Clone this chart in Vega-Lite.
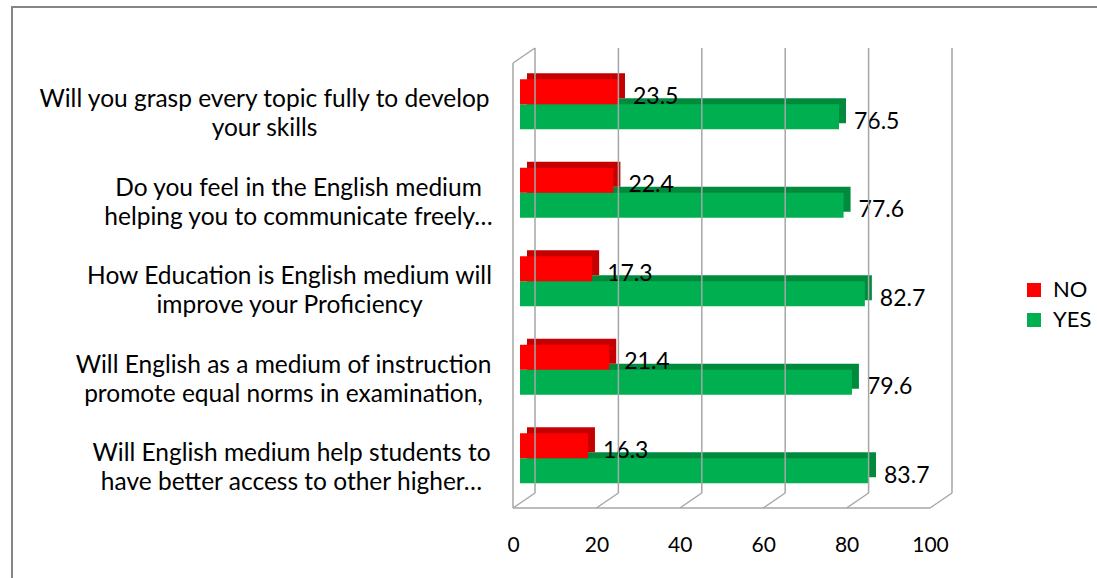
{
  "$schema": "https://vega.github.io/schema/vega-lite/v6.json",
  "width": 1094,
  "height": 575,
  "autosize": {"type": "none"},
  "padding": {"left": 12, "top": 7, "right": 0, "bottom": 0},
  "background": "white",
  "config": {
    "view": {"stroke": "#858585", "strokeWidth": 2},
    "font": "Lato",
    "axis": {"grid": false, "ticks": false, "tickSize": 0, "domain": false, "labelColor": "#000000"},
    "legend": {"padding": 0}
  },
  "datasets": {
    "bars": [
      {"question": "Will you grasp every topic fully to develop|your skills", "answer": "NO", "value": 23.5},
      {"question": "Will you grasp every topic fully to develop|your skills", "answer": "YES", "value": 76.5},
      {"question": "Do you feel in the English medium|helping you to communicate freely…", "answer": "NO", "value": 22.4},
      {"question": "Do you feel in the English medium|helping you to communicate freely…", "answer": "YES", "value": 77.6},
      {"question": "How Education is English medium will|improve your Proficiency", "answer": "NO", "value": 17.3},
      {"question": "How Education is English medium will|improve your Proficiency", "answer": "YES", "value": 82.7},
      {"question": "Will English as a medium of instruction|promote equal norms in examination,", "answer": "NO", "value": 21.4},
      {"question": "Will English as a medium of instruction|promote equal norms in examination,", "answer": "YES", "value": 79.6},
      {"question": "Will English medium help students to|have better access to other higher…", "answer": "NO", "value": 16.3},
      {"question": "Will English medium help students to|have better access to other higher…", "answer": "YES", "value": 83.7}
    ],
    "ticks": [{"tick": 0}, {"tick": 20}, {"tick": 40}, {"tick": 60}, {"tick": 80}, {"tick": 100}],
    "one": [{"k": 1}]
  },
  "layer": [
    {
      "data": {"name": "bars"},
      "encoding": {
        "x": {
          "field": "value", "type": "quantitative", "title": null,
          "scale": {"domain": [0, 100], "range": [508, 925], "nice": false, "zero": true},
          "axis": {"values": [0, 20, 40, 60, 80, 100], "orient": "bottom", "offset": -74, "labelPadding": 26, "labelOffset": -7, "labelFontSize": 21, "labelFlush": false}
        },
        "y": {
          "field": "question", "type": "nominal", "sort": null, "title": null,
          "scale": {"range": [53, 495.5], "paddingInner": 0.7175, "paddingOuter": 0.35875},
          "axis": {
            "labelExpr": "split(datum.label, '|')",
            "labelAlign": "center",
            "labelPadding": {
              "condition": [
                {"test": "indexof(datum.value, 'grasp') >= 0", "value": 249},
                {"test": "indexof(datum.value, 'feel') >= 0", "value": 215},
                {"test": "indexof(datum.value, 'How Education') >= 0", "value": 224},
                {"test": "indexof(datum.value, 'instruction') >= 0", "value": 230}
              ],
              "value": 222
            },
            "offset": -501, "labelFontSize": 24.5, "labelLineHeight": 29, "labelOffset": -4, "labelLimit": 700
          }
        }
      },
      "layer": [
        {"transform": [{"filter": "datum.answer === 'YES'"}], "mark": {"type": "bar", "color": "#008a3c", "xOffset": 7, "x2Offset": 7, "yOffset": 6.5}},
        {"transform": [{"filter": "datum.answer === 'NO'"}], "mark": {"type": "bar", "color": "#c40000", "xOffset": 7, "x2Offset": 7, "yOffset": -18.5}},
        {
          "transform": [{"filter": "datum.answer === 'YES'"}],
          "mark": {"type": "bar", "yOffset": 12.5},
          "encoding": {"color": {"field": "answer", "type": "nominal", "scale": {"domain": ["NO", "YES"], "range": ["#ff0000", "#00b050"]},
            "legend": {"title": null, "orient": "none", "legendX": 1011, "legendY": 272, "labelFontSize": 22, "symbolType": "square", "symbolSize": 196, "symbolStrokeWidth": 0, "rowPadding": 8, "labelOffset": 8, "labelColor": "#000000"}}}
        },
        {
          "transform": [{"filter": "datum.answer === 'NO'"}],
          "mark": {"type": "bar", "yOffset": -12.5},
          "encoding": {"color": {"field": "answer", "type": "nominal"}}
        },
        {
          "transform": [{"filter": "datum.answer === 'YES'"}],
          "mark": {"type": "text", "align": "left", "baseline": "middle", "dx": 15, "yOffset": 17.5, "fontSize": 23, "color": "#000000"},
          "encoding": {"text": {"field": "value", "type": "quantitative", "format": ".1f"}}
        },
        {
          "transform": [{"filter": "datum.answer === 'NO'"}],
          "mark": {"type": "text", "align": "left", "baseline": "middle", "dx": 15, "yOffset": -7.5, "fontSize": 23, "color": "#000000"},
          "encoding": {"text": {"field": "value", "type": "quantitative", "format": ".1f"}}
        }
      ]
    },
    {
      "layer": [
        {
          "data": {"name": "ticks"},
          "mark": {"type": "rule", "color": "#a6a6a6", "strokeWidth": 1.5, "xOffset": 15},
          "encoding": {
            "x": {"field": "tick", "type": "quantitative", "title": null},
            "y": {"datum": 0, "type": "quantitative", "title": null, "scale": {"domain": [0, 1], "range": [486, 41]}, "axis": null},
            "y2": {"datum": 1}
          }
        },
        {
          "data": {"name": "ticks"},
          "mark": {"type": "rule", "color": "#a6a6a6", "strokeWidth": 1.5, "xOffset": -7, "x2Offset": 15, "yOffset": 15, "y2Offset": 0},
          "encoding": {
            "x": {"field": "tick", "type": "quantitative", "title": null},
            "x2": {"field": "tick"},
            "y": {"datum": 0, "type": "quantitative", "title": null, "axis": null},
            "y2": {"datum": 0}
          }
        },
        {
          "data": {"name": "one"},
          "mark": {"type": "rule", "color": "#a6a6a6", "strokeWidth": 1.5, "xOffset": -7, "x2Offset": -7, "yOffset": 15},
          "encoding": {
            "x": {"datum": 0, "type": "quantitative", "title": null},
            "x2": {"datum": 100},
            "y": {"datum": 0, "type": "quantitative", "title": null, "axis": null}
          }
        },
        {
          "data": {"name": "one"},
          "mark": {"type": "rule", "color": "#a6a6a6", "strokeWidth": 1.5, "xOffset": -7, "yOffset": 15, "y2Offset": 15},
          "encoding": {
            "x": {"datum": 0, "type": "quantitative", "title": null},
            "y": {"datum": 0, "type": "quantitative", "title": null, "axis": null},
            "y2": {"datum": 1}
          }
        },
        {
          "data": {"name": "one"},
          "mark": {"type": "rule", "color": "#a6a6a6", "strokeWidth": 1.5, "xOffset": -7, "x2Offset": 15, "yOffset": 15, "y2Offset": 0},
          "encoding": {
            "x": {"datum": 0, "type": "quantitative", "title": null},
            "x2": {"datum": 0},
            "y": {"datum": 1, "type": "quantitative", "title": null, "axis": null},
            "y2": {"datum": 1}
          }
        }
      ]
    }
  ],
  "resolve": {"scale": {"y": "independent"}}
}
